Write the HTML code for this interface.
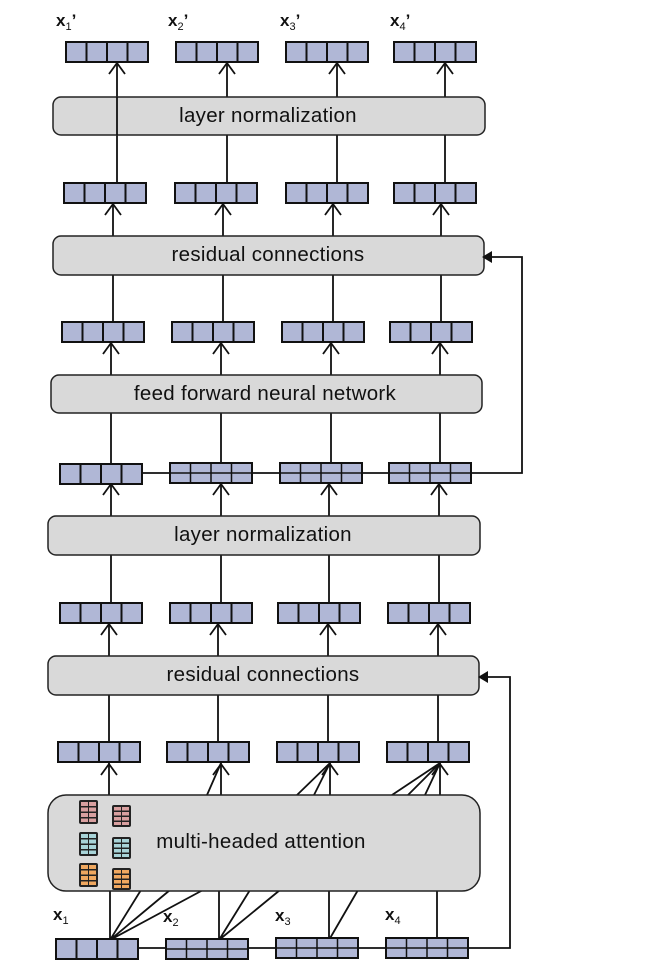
<!DOCTYPE html>
<html><head><meta charset="utf-8"><style>
html,body{margin:0;padding:0;background:#fff;}
svg{display:block;}
text{font-family:"Liberation Sans","DejaVu Sans",sans-serif;}
</style></head><body>
<svg width="656" height="964" viewBox="0 0 656 964" xmlns="http://www.w3.org/2000/svg">
<defs>
<g id="v"><rect x="0" y="0" width="82" height="20" fill="#b0b7d6" stroke="#111" stroke-width="2"/><path d="M20.5 0V20M41 0V20M61.5 0V20" stroke="#111" stroke-width="2"/></g>
<g id="vs"><rect x="0" y="0" width="82" height="20" fill="#b0b7d6" stroke="#111" stroke-width="2"/><path d="M20.5 0V20M41 0V20M61.5 0V20M0 10H82" stroke="#111" stroke-width="1.5"/></g>
<g id="ah"><path d="M-8 11L0 0L8 11" fill="none" stroke="#111" stroke-width="1.8"/></g>
</defs>
<g stroke="#111" stroke-width="1.8" fill="none">
<path d="M117 183V62M227 183V62M337 183V62M445 183V62"/>
<path d="M113 322V203M223 322V203M333 322V203M441 322V203"/>
<path d="M111 464V342M221 464V342M331 464V342M440 464V342"/>
<path d="M111 603V483M221 603V483M329 603V483M439 603V483"/>
<path d="M109 742V623M218 742V623M328 742V623M438 742V623"/>
<path d="M109 795V763M207 795L221 763M221 795V763M297 795L330 763M314 795L330 763M330 795V763M392 795L440 763M408 795L440 763M425 795L440 763M440 795V763"/>
<path d="M110 940V890M110 940L141 890M110 940L170 890M110 940L203 890M219 940V890M219 940L250 890M219 940L280 890M329 940V890M329 940L358 890M437 940V890"/>
<path d="M138 948H510V677H484"/>
<path d="M143 473H522V257H488"/>
</g>
<g fill="#d9d9d9" stroke="#222" stroke-width="1.5">
<rect x="53" y="97" width="432" height="38" rx="8"/>
<rect x="53" y="236" width="431" height="39" rx="8"/>
<rect x="51" y="375" width="431" height="38" rx="8"/>
<rect x="48" y="516" width="432" height="39" rx="8"/>
<rect x="48" y="656" width="431" height="39" rx="8"/>
<rect x="48" y="795" width="432" height="96" rx="18"/>
</g>
<path d="M117 97V135" stroke="#111" stroke-width="1.8"/>
<g font-size="20.5" fill="#111" text-anchor="middle" letter-spacing="0.3">
<text x="268" y="122">layer normalization</text>
<text x="268" y="261">residual connections</text>
<text x="265" y="400">feed forward neural network</text>
<text x="263" y="541">layer normalization</text>
<text x="263" y="681">residual connections</text>
<text x="261" y="848">multi-headed attention</text>
</g>
<g fill="none">
<use href="#ah" x="117" y="63"/><use href="#ah" x="227" y="63"/><use href="#ah" x="337" y="63"/><use href="#ah" x="445" y="63"/>
<use href="#ah" x="113" y="204"/><use href="#ah" x="223" y="204"/><use href="#ah" x="333" y="204"/><use href="#ah" x="441" y="204"/>
<use href="#ah" x="111" y="343"/><use href="#ah" x="221" y="343"/><use href="#ah" x="331" y="343"/><use href="#ah" x="440" y="343"/>
<use href="#ah" x="111" y="484"/><use href="#ah" x="221" y="484"/><use href="#ah" x="329" y="484"/><use href="#ah" x="439" y="484"/>
<use href="#ah" x="109" y="624"/><use href="#ah" x="218" y="624"/><use href="#ah" x="328" y="624"/><use href="#ah" x="438" y="624"/>
<use href="#ah" x="109" y="764"/><use href="#ah" x="221" y="764"/><use href="#ah" x="330" y="764"/><use href="#ah" x="440" y="764"/>
</g>
<path d="M492 251L482 257L492 263Z M488 671L478 677L488 683Z" fill="#111"/>
<use href="#v" x="66" y="42"/><use href="#v" x="176" y="42"/><use href="#v" x="286" y="42"/><use href="#v" x="394" y="42"/>
<use href="#v" x="64" y="183"/><use href="#v" x="175" y="183"/><use href="#v" x="286" y="183"/><use href="#v" x="394" y="183"/>
<use href="#v" x="62" y="322"/><use href="#v" x="172" y="322"/><use href="#v" x="282" y="322"/><use href="#v" x="390" y="322"/>
<use href="#v" x="60" y="464"/><use href="#vs" x="170" y="463"/><use href="#vs" x="280" y="463"/><use href="#vs" x="389" y="463"/>
<use href="#v" x="60" y="603"/><use href="#v" x="170" y="603"/><use href="#v" x="278" y="603"/><use href="#v" x="388" y="603"/>
<use href="#v" x="58" y="742"/><use href="#v" x="167" y="742"/><use href="#v" x="277" y="742"/><use href="#v" x="387" y="742"/>
<use href="#v" x="56" y="939"/><use href="#vs" x="166" y="939"/><use href="#vs" x="276" y="938"/><use href="#vs" x="386" y="938"/>
<g>
<rect x="79" y="800" width="19" height="24" rx="2" fill="#222"/><g fill="#d9a0a0"><rect x="81" y="802" width="7" height="4"/><rect x="89" y="802" width="7" height="4"/><rect x="81" y="807.5" width="7" height="4"/><rect x="89" y="807.5" width="7" height="4"/><rect x="81" y="813" width="7" height="4"/><rect x="89" y="813" width="7" height="4"/><rect x="81" y="818.5" width="7" height="3.5"/><rect x="89" y="818.5" width="7" height="3.5"/></g>
<rect x="112" y="805" width="19" height="22" rx="2" fill="#222"/><g fill="#d9a0a0"><rect x="114" y="807" width="7" height="3.5"/><rect x="122" y="807" width="7" height="3.5"/><rect x="114" y="812" width="7" height="3.5"/><rect x="122" y="812" width="7" height="3.5"/><rect x="114" y="817" width="7" height="3.5"/><rect x="122" y="817" width="7" height="3.5"/><rect x="114" y="822" width="7" height="3"/><rect x="122" y="822" width="7" height="3"/></g>
<rect x="79" y="832" width="19" height="24" rx="2" fill="#222"/><g fill="#a8d4d8"><rect x="81" y="834" width="7" height="4"/><rect x="89" y="834" width="7" height="4"/><rect x="81" y="839.5" width="7" height="4"/><rect x="89" y="839.5" width="7" height="4"/><rect x="81" y="845" width="7" height="4"/><rect x="89" y="845" width="7" height="4"/><rect x="81" y="850.5" width="7" height="3.5"/><rect x="89" y="850.5" width="7" height="3.5"/></g>
<rect x="112" y="837" width="19" height="22" rx="2" fill="#222"/><g fill="#a8d4d8"><rect x="114" y="839" width="7" height="3.5"/><rect x="122" y="839" width="7" height="3.5"/><rect x="114" y="844" width="7" height="3.5"/><rect x="122" y="844" width="7" height="3.5"/><rect x="114" y="849" width="7" height="3.5"/><rect x="122" y="849" width="7" height="3.5"/><rect x="114" y="854" width="7" height="3"/><rect x="122" y="854" width="7" height="3"/></g>
<rect x="79" y="863" width="19" height="24" rx="2" fill="#222"/><g fill="#f0a860"><rect x="81" y="865" width="7" height="4"/><rect x="89" y="865" width="7" height="4"/><rect x="81" y="870.5" width="7" height="4"/><rect x="89" y="870.5" width="7" height="4"/><rect x="81" y="876" width="7" height="4"/><rect x="89" y="876" width="7" height="4"/><rect x="81" y="881.5" width="7" height="3.5"/><rect x="89" y="881.5" width="7" height="3.5"/></g>
<rect x="112" y="868" width="19" height="22" rx="2" fill="#222"/><g fill="#f0a860"><rect x="114" y="870" width="7" height="3.5"/><rect x="122" y="870" width="7" height="3.5"/><rect x="114" y="875" width="7" height="3.5"/><rect x="122" y="875" width="7" height="3.5"/><rect x="114" y="880" width="7" height="3.5"/><rect x="122" y="880" width="7" height="3.5"/><rect x="114" y="885" width="7" height="3"/><rect x="122" y="885" width="7" height="3"/></g>
</g>
<g font-size="17" font-weight="bold" fill="#111">
<text x="56" y="26">x<tspan font-size="11" font-weight="normal" dy="4">1</tspan><tspan dy="-4">’</tspan></text>
<text x="168" y="26">x<tspan font-size="11" font-weight="normal" dy="4">2</tspan><tspan dy="-4">’</tspan></text>
<text x="280" y="26">x<tspan font-size="11" font-weight="normal" dy="4">3</tspan><tspan dy="-4">’</tspan></text>
<text x="390" y="26">x<tspan font-size="11" font-weight="normal" dy="4">4</tspan><tspan dy="-4">’</tspan></text>
<text x="53" y="920">x<tspan font-size="11" font-weight="normal" dy="4">1</tspan></text>
<text x="163" y="922">x<tspan font-size="11" font-weight="normal" dy="4">2</tspan></text>
<text x="275" y="921">x<tspan font-size="11" font-weight="normal" dy="4">3</tspan></text>
<text x="385" y="920">x<tspan font-size="11" font-weight="normal" dy="4">4</tspan></text>
</g>
</svg>
</body></html>
